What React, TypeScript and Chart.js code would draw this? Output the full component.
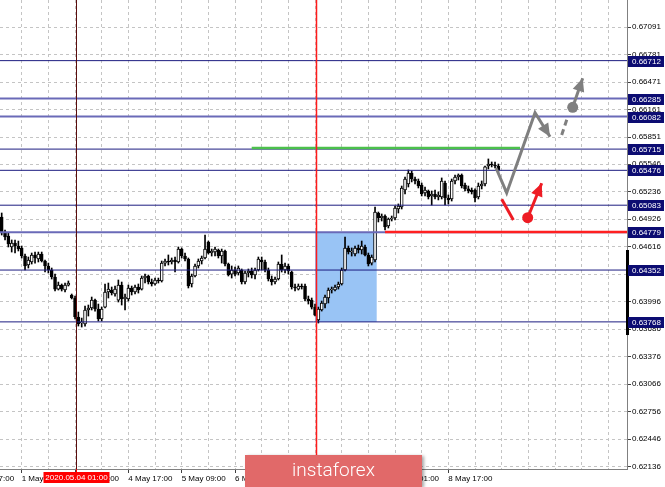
import React, { useEffect, useRef } from "react";
import { Chart, registerables } from "chart.js";

Chart.register(...registerables);

// ---------- data ----------
const openPrices = [
  0.64950, 0.64781, 0.64736, 0.64612, 0.64657, 0.64623, 0.64601, 0.64510, 0.64409, 0.64443,
  0.64522, 0.64477, 0.64533, 0.64454, 0.64398, 0.64353, 0.64274, 0.64138, 0.64183, 0.64127,
  0.64183, 0.64071, 0.64037, 0.63823, 0.63755, 0.63744, 0.63902, 0.63924, 0.64014, 0.63913,
  0.63800, 0.63935, 0.64105, 0.64127, 0.64082, 0.64014, 0.64183, 0.64026, 0.64026, 0.64150,
  0.64105, 0.64161, 0.64138, 0.64262, 0.64285, 0.64217, 0.64195, 0.64240, 0.64229, 0.64431,
  0.64454, 0.64443, 0.64465, 0.64443, 0.64589, 0.64510, 0.64477, 0.64195, 0.64285, 0.64398,
  0.64454, 0.64488, 0.64668, 0.64544, 0.64555, 0.64578, 0.64510, 0.64567, 0.64420, 0.64307,
  0.64353, 0.64319, 0.64353, 0.64217, 0.64319, 0.64341, 0.64296, 0.64353, 0.64465, 0.64443,
  0.64353, 0.64251, 0.64217, 0.64251, 0.64420, 0.64353, 0.64398, 0.64330, 0.64161, 0.64138,
  0.64172, 0.64172, 0.64026, 0.64014, 0.63935, 0.63789, 0.63902, 0.63969, 0.64037, 0.64127,
  0.64127, 0.64161, 0.64195, 0.64353, 0.64601, 0.64555, 0.64533, 0.64601, 0.64578, 0.64612,
  0.64522, 0.64431, 0.64465, 0.64995, 0.64939, 0.64961, 0.64849, 0.64927, 0.64939, 0.65040,
  0.65063, 0.65254, 0.65322, 0.65446, 0.65378, 0.65356, 0.65311, 0.65221, 0.65243, 0.65187,
  0.65209, 0.65175, 0.65175, 0.65333, 0.65164, 0.65153, 0.65356, 0.65401, 0.65423, 0.65311,
  0.65266, 0.65254, 0.65254, 0.65175, 0.65299, 0.65322, 0.65525, 0.65547, 0.65536, 0.65525,
];
const highPrices = [
  0.64995, 0.64803, 0.64770, 0.64691, 0.64691, 0.64679, 0.64623, 0.64533, 0.64499, 0.64544,
  0.64555, 0.64555, 0.64555, 0.64465, 0.64431, 0.64375, 0.64307, 0.64217, 0.64195, 0.64206,
  0.64229, 0.64082, 0.64059, 0.63879, 0.63811, 0.63947, 0.63958, 0.64048, 0.64026, 0.63969,
  0.63935, 0.64195, 0.64206, 0.64161, 0.64172, 0.64240, 0.64217, 0.64082, 0.64183, 0.64172,
  0.64183, 0.64195, 0.64285, 0.64307, 0.64296, 0.64251, 0.64262, 0.64262, 0.64454, 0.64477,
  0.64522, 0.64488, 0.64499, 0.64612, 0.64601, 0.64544, 0.64488, 0.64307, 0.64420, 0.64477,
  0.64510, 0.64747, 0.64679, 0.64589, 0.64612, 0.64589, 0.64589, 0.64578, 0.64431, 0.64398,
  0.64386, 0.64398, 0.64364, 0.64341, 0.64364, 0.64375, 0.64375, 0.64499, 0.64499, 0.64465,
  0.64375, 0.64285, 0.64274, 0.64443, 0.64522, 0.64431, 0.64420, 0.64341, 0.64195, 0.64195,
  0.64195, 0.64195, 0.64059, 0.64037, 0.63969, 0.63935, 0.64003, 0.64071, 0.64150, 0.64161,
  0.64183, 0.64217, 0.64375, 0.64725, 0.64623, 0.64601, 0.64623, 0.64634, 0.64679, 0.64634,
  0.64544, 0.64522, 0.65063, 0.65006, 0.64984, 0.64973, 0.64939, 0.64961, 0.65074, 0.65097,
  0.65299, 0.65401, 0.65480, 0.65468, 0.65401, 0.65378, 0.65333, 0.65288, 0.65254, 0.65243,
  0.65254, 0.65232, 0.65390, 0.65356, 0.65198, 0.65378, 0.65423, 0.65435, 0.65435, 0.65333,
  0.65299, 0.65277, 0.65266, 0.65333, 0.65356, 0.65525, 0.65604, 0.65570, 0.65570, 0.65547,
];
const lowPrices = [
  0.64747, 0.64691, 0.64612, 0.64555, 0.64544, 0.64567, 0.64488, 0.64353, 0.64375, 0.64420,
  0.64431, 0.64443, 0.64443, 0.64330, 0.64319, 0.64251, 0.64116, 0.64127, 0.64116, 0.64105,
  0.64172, 0.64026, 0.63800, 0.63721, 0.63710, 0.63721, 0.63834, 0.63902, 0.63890, 0.63778,
  0.63778, 0.63924, 0.64037, 0.64071, 0.64059, 0.63992, 0.63958, 0.63902, 0.64003, 0.64071,
  0.64082, 0.64093, 0.64127, 0.64206, 0.64195, 0.64172, 0.64183, 0.64206, 0.64217, 0.64398,
  0.64409, 0.64420, 0.64330, 0.64431, 0.64488, 0.64454, 0.64150, 0.64161, 0.64274, 0.64375,
  0.64420, 0.64477, 0.64533, 0.64510, 0.64510, 0.64488, 0.64431, 0.64398, 0.64285, 0.64262,
  0.64285, 0.64296, 0.64195, 0.64195, 0.64274, 0.64262, 0.64251, 0.64341, 0.64353, 0.64330,
  0.64229, 0.64183, 0.64195, 0.64240, 0.64330, 0.64319, 0.64307, 0.64138, 0.64116, 0.64127,
  0.64138, 0.64003, 0.63969, 0.63913, 0.63834, 0.63755, 0.63890, 0.63924, 0.63981, 0.64093,
  0.64116, 0.64138, 0.64183, 0.64341, 0.64533, 0.64510, 0.64510, 0.64544, 0.64533, 0.64510,
  0.64398, 0.64409, 0.64443, 0.64894, 0.64905, 0.64803, 0.64826, 0.64905, 0.64916, 0.64995,
  0.65040, 0.65209, 0.65288, 0.65345, 0.65322, 0.65277, 0.65187, 0.65187, 0.65153, 0.65085,
  0.65153, 0.65142, 0.65153, 0.65085, 0.65097, 0.65130, 0.65322, 0.65367, 0.65277, 0.65243,
  0.65221, 0.65209, 0.65119, 0.65153, 0.65266, 0.65299, 0.65491, 0.65514, 0.65502, 0.65457,
];
const closePrices = [
  0.64770, 0.64725, 0.64646, 0.64657, 0.64623, 0.64589, 0.64510, 0.64398, 0.64465, 0.64522,
  0.64488, 0.64533, 0.64454, 0.64398, 0.64353, 0.64274, 0.64138, 0.64183, 0.64138, 0.64183,
  0.64206, 0.64037, 0.63823, 0.63744, 0.63766, 0.63902, 0.63924, 0.64014, 0.63913, 0.63800,
  0.63913, 0.64105, 0.64138, 0.64093, 0.64138, 0.64183, 0.64026, 0.64048, 0.64150, 0.64105,
  0.64161, 0.64127, 0.64262, 0.64285, 0.64217, 0.64195, 0.64240, 0.64229, 0.64431, 0.64454,
  0.64443, 0.64465, 0.64443, 0.64589, 0.64510, 0.64477, 0.64172, 0.64285, 0.64398, 0.64454,
  0.64488, 0.64589, 0.64544, 0.64567, 0.64589, 0.64510, 0.64567, 0.64420, 0.64296, 0.64353,
  0.64307, 0.64375, 0.64217, 0.64319, 0.64341, 0.64296, 0.64353, 0.64477, 0.64443, 0.64353,
  0.64251, 0.64217, 0.64251, 0.64420, 0.64353, 0.64398, 0.64341, 0.64161, 0.64150, 0.64172,
  0.64161, 0.64026, 0.64003, 0.63935, 0.63845, 0.63913, 0.63981, 0.64048, 0.64127, 0.64138,
  0.64161, 0.64195, 0.64353, 0.64601, 0.64555, 0.64567, 0.64601, 0.64578, 0.64623, 0.64522,
  0.64420, 0.64499, 0.65006, 0.64939, 0.64961, 0.64837, 0.64927, 0.64939, 0.65051, 0.65074,
  0.65277, 0.65378, 0.65446, 0.65378, 0.65356, 0.65299, 0.65209, 0.65254, 0.65175, 0.65209,
  0.65175, 0.65198, 0.65356, 0.65164, 0.65142, 0.65356, 0.65401, 0.65423, 0.65299, 0.65266,
  0.65243, 0.65232, 0.65164, 0.65299, 0.65322, 0.65514, 0.65547, 0.65536, 0.65525, 0.65480,
];

const xTickBars = [-10, 6, 22, 38, 54, 70, 86, 102, 118, 134];
const xTickLabels = [
  "30 Apr 17:00", "1 May 09:00", "4 May 01:00", "4 May 17:00", "5 May 09:00",
  "6 May 01:00", "6 May 17:00", "7 May 09:00", "8 May 01:00", "8 May 17:00",
];
const yTickLabels = [
  "0.62136", "0.62446", "0.62756", "0.63066", "0.63376", "0.63686", "0.63996", "0.64306",
  "0.64616", "0.64926", "0.65236", "0.65546", "0.65851", "0.66161", "0.66471", "0.66781", "0.67091",
];
const levelPrices = [0.66712, 0.66285, 0.66082, 0.65715, 0.65476, 0.65083, 0.64779, 0.64352, 0.63768];
const softLevelPrices = [0.66285, 0.66082, 0.64779];

const greenLevel = [{ x: 75, y: 0.65728 }, { x: 155.5, y: 0.65728 }];
const redLevelStart = { x: 115, y: 0.64781 };
const grayPath = [
  { x: 148.3, y: 0.65502 },
  { x: 151.5, y: 0.65221 },
  { x: 160.0, y: 0.66125 },
  { x: 164.5, y: 0.65855 },
];
const grayDash = [{ x: 168.0, y: 0.65874 }, { x: 169.7, y: 0.66066 }];
const grayArrow = [{ x: 171.3, y: 0.66186 }, { x: 174.3, y: 0.66513 }];
const redStroke = [{ x: 150.0, y: 0.65149 }, { x: 153.5, y: 0.64916 }];
const redArrow = [{ x: 157.8, y: 0.64942 }, { x: 162.0, y: 0.6533 }];
const zoneBars = [94.0, 112.5];
const zonePrices = [0.64779, 0.63768];
const verticalLineBars = [22.2, 94.2];
const verticalLineColors = ["#5a0d0d", "#ff1a1a"];
const verticalLineWidths = [1, 1.5];
const cursorLabel = "2020.05.04 01:00";
const axisMarkPrices = [0.64578, 0.6362];

const X_MIN = -0.51;
const X_MAX = 187.59;
const Y_MIN = 0.621101;
const Y_MAX = 0.673953;

const FONT = '"Liberation Sans", Arial, sans-serif';

function drawHead(ctx: CanvasRenderingContext2D, x0: number, y0: number, x1: number, y1: number, color: string) {
  const a = Math.atan2(y1 - y0, x1 - x0);
  const len = 13;
  const half = 6;
  const bx = x1 - Math.cos(a) * len;
  const by = y1 - Math.sin(a) * len;
  ctx.fillStyle = color;
  ctx.beginPath();
  ctx.moveTo(x1, y1);
  ctx.lineTo(bx + Math.sin(a) * half, by - Math.cos(a) * half);
  ctx.lineTo(bx - Math.sin(a) * half, by + Math.cos(a) * half);
  ctx.closePath();
  ctx.fill();
}

const overlayPlugin = {
  id: "overlay",
  beforeDatasetsDraw(chart: any) {
    const { ctx, scales } = chart;
    const x = scales.x, y = scales.y;
    const x0 = x.getPixelForValue(zoneBars[0]);
    const x1 = x.getPixelForValue(zoneBars[1]);
    const y0 = y.getPixelForValue(zonePrices[0]);
    const y1 = y.getPixelForValue(zonePrices[1]);
    ctx.save();
    ctx.fillStyle = "#99c4f5";
    ctx.fillRect(x0, y0, x1 - x0, y1 - y0);
    ctx.restore();
  },
  afterDatasetsDraw(chart: any) {
    const { ctx, scales, chartArea } = chart;
    const x = scales.x, y = scales.y;
    ctx.save();
    verticalLineBars.forEach((v, k) => {
      const px = Math.round(x.getPixelForValue(v)) + 0.5;
      ctx.strokeStyle = verticalLineColors[k];
      ctx.lineWidth = verticalLineWidths[k];
      ctx.beginPath();
      ctx.moveTo(px, chartArea.top);
      ctx.lineTo(px, chartArea.bottom);
      ctx.stroke();
    });
    const g1 = grayPath[grayPath.length - 2], g2 = grayPath[grayPath.length - 1];
    drawHead(ctx, x.getPixelForValue(g1.x), y.getPixelForValue(g1.y), x.getPixelForValue(g2.x), y.getPixelForValue(g2.y), "#7f7f7f");
    drawHead(ctx, x.getPixelForValue(grayArrow[0].x), y.getPixelForValue(grayArrow[0].y), x.getPixelForValue(grayArrow[1].x), y.getPixelForValue(grayArrow[1].y), "#7f7f7f");
    drawHead(ctx, x.getPixelForValue(redArrow[0].x), y.getPixelForValue(redArrow[0].y), x.getPixelForValue(redArrow[1].x), y.getPixelForValue(redArrow[1].y), "#ee1c24");
    ctx.restore();
  },
  afterDraw(chart: any) {
    const { ctx, scales, chartArea } = chart;
    const x = scales.x, y = scales.y;
    ctx.save();
    ctx.fillStyle = "#000";
    const m0 = y.getPixelForValue(axisMarkPrices[0]);
    const m1 = y.getPixelForValue(axisMarkPrices[1]);
    ctx.fillRect(chartArea.right - 1, m0, 3, m1 - m0);
    ctx.font = `8px ${FONT}`;
    ctx.textBaseline = "middle";
    ctx.textAlign = "left";
    levelPrices.forEach((p) => {
      const py = Math.round(y.getPixelForValue(p));
      ctx.fillStyle = "#0c0c72";
      ctx.fillRect(chartArea.right + 1, py - 5, 36, 11);
      ctx.fillStyle = "#ffffff";
      ctx.fillText(p.toFixed(5), chartArea.right + 5, py + 0.5);
    });
    const cx = Math.round(x.getPixelForValue(verticalLineBars[0])) + 0.5;
    ctx.strokeStyle = "#ff0000";
    ctx.lineWidth = 1;
    ctx.beginPath();
    ctx.moveTo(cx, chartArea.bottom);
    ctx.lineTo(cx, chartArea.bottom + 3);
    ctx.stroke();
    ctx.fillStyle = "#ff0000";
    ctx.fillRect(cx - 33, chartArea.bottom + 3, 66, 11);
    ctx.fillStyle = "#ffffff";
    ctx.textAlign = "center";
    ctx.fillText(cursorLabel, cx, chartArea.bottom + 9);
    ctx.restore();
  },
};

export default function App() {
  const ref = useRef<HTMLCanvasElement | null>(null);

  useEffect(() => {
    if (!ref.current) return;
    Chart.defaults.font.family = FONT;
    Chart.defaults.font.size = 8;
    Chart.defaults.color = "#000";

    const idx = openPrices.map((_, i) => i);
    const bodies = idx.map((i) => ({ x: i, y: [openPrices[i], closePrices[i]] }));
    const wicks = idx.map((i) => ({ x: i, y: [lowPrices[i], highPrices[i]] }));
    const bodyColors = idx.map((i) => (closePrices[i] >= openPrices[i] ? "#ffffff" : "#000000"));

    const levelSets = levelPrices.map((p) => {
      const soft = softLevelPrices.includes(p);
      return {
        type: "line",
        data: [{ x: X_MIN, y: p }, { x: X_MAX, y: p }],
        borderColor: soft ? "#6a6ab8" : "#1c1c80",
        borderWidth: soft ? 2 : 1,
        pointRadius: 0,
        order: 5,
      };
    });

    const yTickValues = yTickLabels.map((s) => Number(s));

    const chart = new Chart(ref.current, {
      type: "bar",
      data: {
        datasets: [
          ...levelSets,
          { type: "line", data: greenLevel, borderColor: "#4cc04c", borderWidth: 2.5, pointRadius: 0, order: 4 },
          {
            type: "line",
            data: [redLevelStart, { x: X_MAX, y: redLevelStart.y }],
            borderColor: "#ff2020",
            borderWidth: 2.5,
            pointRadius: 0,
            order: 4,
          },
          { type: "line", data: grayPath, borderColor: "#7f7f7f", borderWidth: 3, pointRadius: 0, borderJoinStyle: "miter", order: 2 },
          { type: "line", data: grayDash, borderColor: "#7f7f7f", borderWidth: 3, borderDash: [6, 4], pointRadius: 0, order: 2 },
          {
            type: "line",
            data: grayArrow,
            borderColor: "#7f7f7f",
            borderWidth: 3,
            pointRadius: [5.5, 0],
            pointBackgroundColor: "#7f7f7f",
            pointBorderWidth: 0,
            order: 2,
          },
          { type: "line", data: redStroke, borderColor: "#ee1c24", borderWidth: 3, pointRadius: 0, order: 2 },
          {
            type: "line",
            data: redArrow,
            borderColor: "#ee1c24",
            borderWidth: 3,
            pointRadius: [5.5, 0],
            pointBackgroundColor: "#ee1c24",
            pointBorderWidth: 0,
            order: 2,
          },
          {
            type: "bar",
            data: bodies,
            backgroundColor: bodyColors,
            borderColor: "#000000",
            borderWidth: 1,
            borderSkipped: false,
            barThickness: 3,
            grouped: false,
            order: 9,
          },
          {
            type: "bar",
            data: wicks,
            backgroundColor: "#000000",
            borderWidth: 0,
            barThickness: 1,
            grouped: false,
            order: 10,
          },
        ] as any,
      },
      options: {
        animation: false,
        responsive: false,
        maintainAspectRatio: false,
        events: [],
        layout: { padding: 0, autoPadding: false },
        plugins: { legend: { display: false }, tooltip: { enabled: false } },
        scales: {
          x: {
            type: "linear",
            min: X_MIN,
            max: X_MAX,
            bounds: "data",
            offset: false,
            grid: {
              offset: false,
              color: "#c4c4c4",
              lineWidth: 1,
              tickLength: 4,
              tickColor: (c: any) => (c.tick && xTickBars.includes(c.tick.value) ? "#404040" : "rgba(0,0,0,0)"),
            },
            border: { color: "#808080", width: 1, dash: [3, 3] },
            ticks: {
              autoSkip: false,
              maxRotation: 0,
              minRotation: 0,
              align: "start",
              padding: 1,
              font: { size: 8, family: FONT },
              color: "#000",
              callback: (v: any) => {
                const k = xTickBars.indexOf(Number(v));
                return k >= 0 ? xTickLabels[k] : "";
              },
            },
            afterBuildTicks: (scale: any) => {
              const t: any[] = [];
              for (let v = -10; v <= 182; v += 8) t.push({ value: v });
              scale.ticks = t;
            },
            afterFit: (scale: any) => {
              scale.height = 18;
              scale.paddingLeft = 0;
              scale.paddingRight = 0;
            },
          } as any,
          y: {
            type: "linear",
            position: "right",
            min: Y_MIN,
            max: Y_MAX,
            bounds: "data",
            grid: { color: "#c4c4c4", lineWidth: 1, tickLength: 4, tickColor: "#404040" },
            border: { color: "#808080", width: 1, dash: [3, 3] },
            ticks: {
              autoSkip: false,
              padding: 1,
              font: { size: 8, family: FONT },
              color: "#000",
              callback: (_v: any, i: number) => yTickLabels[i],
            },
            afterBuildTicks: (scale: any) => {
              scale.ticks = yTickValues.map((v) => ({ value: v }));
            },
            afterFit: (scale: any) => {
              scale.width = 38;
              scale.paddingTop = 0;
              scale.paddingBottom = 0;
            },
          } as any,
        },
      },
      plugins: [overlayPlugin],
    });

    return () => chart.destroy();
  }, []);

  return (
    <div style={{ position: "fixed", left: 0, top: 0, width: 665, height: 487, background: "#fff", overflow: "hidden" }}>
      <canvas ref={ref} width={665} height={487} style={{ width: 665, height: 487, display: "block" }} />
      <div
        style={{
          position: "absolute",
          left: 245,
          top: 455,
          width: 177,
          height: 32,
          background: "#e16969",
          boxShadow: "2px 1px 3px rgba(0,0,0,0.35)",
          color: "#fff",
          fontFamily: "Roboto, 'Open Sans', sans-serif",
          fontWeight: 300,
          fontSize: 19,
          lineHeight: "30px",
          textAlign: "center",
        }}
      >
        instaforex
      </div>
    </div>
  );
}
